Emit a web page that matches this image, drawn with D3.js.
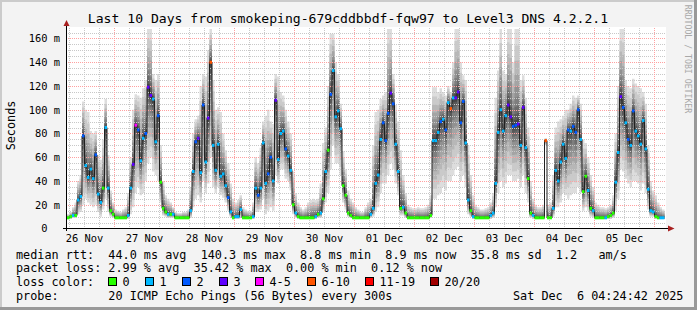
<!DOCTYPE html>
<html>
<head>
<meta charset="utf-8">
<script src="https://cdnjs.cloudflare.com/ajax/libs/d3/7.8.5/d3.min.js"></script>
<style>
  body { margin: 0; background: #f3f3f3; }
  svg { display: block; font-family: "DejaVu Sans Mono", monospace; }
  text { white-space: pre; }
</style>
</head>
<body>
<svg></svg>
<script>
var width = 697;
var height = 310;

var plot_left = 66, plot_right = 666, plot_top = 28, plot_bottom = 228;

// hourly consolidated samples, first one at 26 Nov 05:00
var first_hour = Date.UTC(2025, 10, 26, 5);

var median_ms = [
   9, 10, 11, 11, 24, 27, 78, 53, 43, 50,
  42, 62, 29, 22, 34, 85, 34, 15, 12,  9,
   9,  9,  9,  9, 11, 34, 54, 87, 83, 57,
  76, 80,119,112,109, 73, 95, 39, 17, 14,
  12, 12, 12,  9,  9,  9,  9,  9,  9, 15,
  48, 73, 76, 47,104, 56, 93,140, 70, 49,
  71, 44, 46, 36, 26, 14,  9, 10, 10, 16,
   9,  9,  9,  9, 10, 34, 28, 34, 72, 38,
  46, 60, 40,108, 58, 80, 82, 67, 61, 49,
  20, 13, 10,  9,  9,  9,  9,  9,  9, 10,
  12, 13, 25, 48, 66,113,133, 94, 99, 84,
  36, 28, 13, 11,  9,  9,  9,  9,  9,  9,
   9, 12, 17, 38, 45, 75, 89, 74, 97,114,
 105, 71, 48, 17, 18, 13,  9,  9,  9,  9,
   9,  9,  9,  9,  9, 11, 74, 74, 81, 90,
  92, 83,106,101,110,110,115, 89,107, 72,
  24, 15, 10,  9,  9,  9,  9,  9,  9, 11,
  13, 38, 81,100, 82, 95,104, 94, 86, 87,
  88, 70,102, 68, 42, 13, 11,  9,  9,  9,
   9, 74,  9,  9, 17, 49, 40, 56, 71, 59,
  83, 82, 86, 81,100, 75, 31, 44, 32, 17,
  15,  9,  9,  9,  9,  9, 10, 11, 13, 39,
  64,111,102, 89, 75, 70, 99, 82, 78, 71,
  91, 67, 33, 15, 14, 10,  9,  9,  9
];

// outer edge of the smoke (fastest / slowest ping)
var smoke_lo_ms = [
   8,  8,  9,  9, 12, 14, 20, 25, 22, 20,
  18, 20, 14, 10, 16, 25, 14, 10,  9,  8,
   8,  8,  8,  8,  8, 12, 18, 30, 35, 28,
  30, 40, 55, 60, 48, 45, 40, 22, 11, 10,
   9,  9,  9,  8,  8,  8,  8,  8,  8,  9,
  18, 25, 28, 22, 40, 30, 38, 60, 35, 30,
  35, 28, 26, 22, 15, 10,  8,  8,  8,  9,
   8,  8,  8,  8,  8, 14, 14, 16, 25, 12,
  15, 18, 15, 45, 38, 50, 50, 42, 40, 32,
  12,  9,  8,  8,  8,  8,  8,  8,  8,  8,
   9,  9, 14, 22, 30, 50, 70, 55, 55, 45,
  22, 16, 10,  9,  8,  8,  8,  8,  8,  8,
   8,  9, 10, 14, 18, 30, 38, 38, 45, 55,
  50, 38, 28, 11, 11,  9,  8,  8,  8,  8,
   8,  8,  8,  8,  8,  9, 25, 25, 28, 30,
  35, 32, 40, 40, 45, 50, 52, 40, 45, 35,
  12, 10,  8,  8,  8,  8,  8,  8,  8,  8,
   9, 18, 30, 40, 35, 38, 45, 45, 40, 40,
  42, 35, 45, 30, 22,  9,  8,  8,  8,  8,
   8, 70,  8,  8, 10, 18, 18, 22, 30, 28,
  25, 28, 30, 30, 35, 30, 15, 18, 15, 10,
   9,  8,  8,  8,  8,  8,  8,  8,  9, 15,
  25, 50, 48, 42, 38, 35, 40, 40, 38, 32,
  38, 30, 16, 10, 10,  8,  8,  8,  8
];

var smoke_hi_ms = [
  12, 14, 18, 22, 40, 45,107,100, 98, 82,
  80, 82, 62, 58, 75,109, 62, 32, 22, 16,
  15, 14, 16, 18, 30, 60,100,113,112,110,
 118,125,168,168,130,125,130, 70, 40, 28,
  25, 22, 18, 14, 13, 13, 14, 14, 16, 35,
  80, 92, 95,120,130,128,150,168,125,100,
 102, 98, 80, 66, 55, 38, 25, 22, 24, 28,
  18, 16, 15, 15, 22, 60, 55, 68, 90, 95,
 100, 90, 88,130,128,115,112,100, 90, 80,
  48, 30, 22, 18, 16, 18, 22, 24, 25, 24,
  25, 38, 72, 85,120,164,164,140,130,105,
  65, 50, 32, 25, 22, 18, 16, 14, 14, 18,
  22, 25, 70, 98,100,109,112,115,168,168,
 130,104, 90, 66, 45, 30, 20, 18, 17, 17,
  18, 17, 17, 18, 20, 28,119,119,115,118,
 115,112,120,115,140,168,168,140,129,125,
  70, 45, 28, 20, 18, 16, 16, 17, 18, 22,
  30,110,133,168,133,130,168,168,140,168,
 168,125,129,110, 85, 40, 25, 20, 18, 18,
  20, 76, 20, 22, 45, 85, 90, 92, 95,100,
 100,105,112,110,112,105, 75, 72, 60, 45,
  35, 22, 20, 18, 18, 17, 18, 20, 28, 80,
 120,168,168,125,120,118,126,122,120,118,
 115,105, 70, 40, 32, 28, 22, 18, 16
];

// lost pings out of 20
var loss_pings = [
  0, 0, 1, 0, 1, 1, 2, 1, 1, 1,
  1, 2, 1, 1, 0, 1, 1, 0, 0, 0,
  0, 0, 0, 0, 1, 1, 3, 4, 2, 1,
  1, 2, 3, 3, 1, 1, 2, 0, 0, 0,
  1, 0, 1, 0, 0, 0, 0, 0, 0, 1,
  1, 2, 3, 1, 2, 1, 3, 8, 1, 1,
  1, 1, 1, 1, 2, 1, 0, 1, 1, 1,
  0, 0, 0, 0, 1, 1, 2, 1, 1, 1,
  2, 2, 1, 3, 1, 1, 1, 2, 1, 1,
  0, 1, 0, 0, 0, 0, 0, 0, 0, 1,
  0, 1, 0, 1, 0, 2, 1, 1, 1, 1,
  0, 0, 0, 0, 0, 0, 0, 0, 0, 0,
  0, 1, 1, 1, 1, 1, 2, 2, 2, 3,
  2, 1, 1, 0, 1, 0, 0, 0, 0, 0,
  0, 0, 0, 0, 0, 0, 1, 1, 1, 2,
  1, 2, 1, 8, 1, 3, 3, 2, 2, 1,
  1, 0, 1, 0, 0, 0, 0, 0, 0, 1,
  1, 1, 1, 1, 1, 1, 3, 3, 2, 2,
  3, 1, 3, 1, 0, 0, 1, 0, 0, 0,
  0, 8, 0, 0, 1, 1, 1, 1, 1, 1,
  2, 1, 2, 2, 2, 1, 0, 0, 1, 0,
  1, 0, 0, 0, 0, 1, 0, 0, 0, 1,
  1, 3, 2, 1, 2, 1, 2, 1, 1, 1,
  1, 1, 1, 1, 1, 0, 0, 1, 1
];

var y_ticks = [0, 20, 40, 60, 80, 100, 120, 140, 160];
var y_labels = ["0  ", "20 m", "40 m", "60 m", "80 m", "100 m", "120 m", "140 m", "160 m"];
var day_labels = ["26 Nov", "27 Nov", "28 Nov", "29 Nov", "30 Nov", "01 Dec", "02 Dec", "03 Dec", "04 Dec", "05 Dec"];

var loss_names = ["0", "1", "2", "3", "4-5", "6-10", "11-19", "20/20"];
var loss_max = [0, 1, 2, 3, 5, 10, 19, 20];
var loss_colors = ["#26ff00", "#00b8ff", "#0059ff", "#5e00ff", "#ff00ff", "#ff5500", "#ff0000", "#a10000"];
var loss_box_x = [108.5, 145.5, 182.5, 219.5, 255.5, 307.5, 365.5, 430.5];

var smoke_grays = [221, 202, 183, 164, 145, 126, 107, 88, 69, 50];

var legend_rows = [
    "median rtt:  44.0 ms avg  140.3 ms max  8.8 ms min  8.9 ms now  35.8 ms sd  1.2   am/s",
    "packet loss: 2.99 % avg  35.42 % max  0.00 % min  0.12 % now",
    "loss color:",
    "probe:       20 ICMP Echo Pings (56 Bytes) every 300s"
];
var stamp = "Sat Dec  6 04:24:42 2025";
var title = "Last 10 Days from smokeping-679cddbbdf-fqw97 to Level3 DNS 4.2.2.1";

var svg = d3.select("svg")
    .attr("width", width)
    .attr("height", height);

// background + 3d shade
svg.append("rect").attr("width", width).attr("height", height).attr("fill", "#f3f3f3");
svg.append("rect").attr("x", 0).attr("y", 0).attr("width", width).attr("height", 2).attr("fill", "#cbcbcb");
svg.append("rect").attr("x", 0).attr("y", 0).attr("width", 2).attr("height", height).attr("fill", "#cbcbcb");
svg.append("rect").attr("x", 0).attr("y", height - 3).attr("width", width).attr("height", 3).attr("fill", "#999999");
svg.append("rect").attr("x", width - 3).attr("y", 0).attr("width", 3).attr("height", height).attr("fill", "#999999");

svg.append("rect")
    .attr("x", plot_left).attr("y", plot_top - 1)
    .attr("width", plot_right - plot_left).attr("height", plot_bottom - plot_top + 1)
    .attr("fill", "#ffffff");

svg.append("clipPath").attr("id", "plotclip")
  .append("rect")
    .attr("x", plot_left + 1).attr("y", plot_top - 1)
    .attr("width", plot_right - plot_left).attr("height", plot_bottom - plot_top + 1);

var x = d3.scaleUtc()
    .domain([Date.UTC(2025, 10, 26), Date.UTC(2025, 11, 6)])
    .range([54.5, 654.5]);

var y = d3.scaleLinear()
    .domain([0, 168.42])
    .range([228.5, 28.5]);

function loss_band(l) {
    for (var i = 0; i < loss_max.length; i++) {
        if (l <= loss_max[i]) return i;
    }
    return loss_max.length - 1;
}

var samples = median_ms.map(function(m, i) {
    return { t: new Date(first_hour + i * 3600e3), med: m, lo: smoke_lo_ms[i], hi: smoke_hi_ms[i], loss: loss_pings[i] };
});
// one extra point so the last step gets its width
var last = samples[samples.length - 1];
var step_pts = samples.concat([{ t: new Date(first_hour + samples.length * 3600e3), med: last.med, lo: last.lo, hi: last.hi, loss: last.loss }]);

var plot = svg.append("g").attr("clip-path", "url(#plotclip)");

// smoke: outer band lightest, inner bands darker and narrower
smoke_grays.forEach(function(g, k) {
    var f = Math.pow(1 - k / smoke_grays.length, 1.8);
    var area = d3.area()
        .curve(d3.curveStepAfter)
        .x(function(d) { return x(d.t); })
        .y0(function(d) { return y(d.med - (d.med - d.lo) * f); })
        .y1(function(d) { return y(Math.min(168.42, d.med + (d.hi - d.med) * f)); });
    plot.append("path")
        .datum(step_pts)
        .attr("d", area)
        .attr("fill", d3.rgb(g, g, g));
});

// grid
var grid = plot.append("g").attr("class", "grid");
var minor_y = d3.range(5, 170, 5).filter(function(v) { return v % 20 != 0; });
grid.selectAll(".hminor").data(minor_y).enter().append("line")
    .attr("x1", plot_left).attr("x2", plot_right)
    .attr("y1", function(d) { return Math.round(y(d)) + 0.5; })
    .attr("y2", function(d) { return Math.round(y(d)) + 0.5; })
    .attr("stroke", "#c8c8c8").attr("stroke-dasharray", "1,1");

var minor_x = d3.utcHour.every(6).range(new Date(Date.UTC(2025, 10, 26, 6)), new Date(Date.UTC(2025, 11, 6, 6)))
    .filter(function(d) { return d.getUTCHours() != 0; });
grid.selectAll(".vminor").data(minor_x).enter().append("line")
    .attr("x1", function(d) { return x(d); }).attr("x2", function(d) { return x(d); })
    .attr("y1", plot_top).attr("y2", plot_bottom)
    .attr("stroke", "#c8c8c8").attr("stroke-dasharray", "1,1");

grid.selectAll(".hmajor").data(y_ticks.slice(1)).enter().append("line")
    .attr("x1", plot_left).attr("x2", plot_right)
    .attr("y1", function(d) { return Math.round(y(d)) + 0.5; })
    .attr("y2", function(d) { return Math.round(y(d)) + 0.5; })
    .attr("stroke", "#ffa0a0").attr("stroke-dasharray", "1,1");

var days = d3.utcDay.range(new Date(Date.UTC(2025, 10, 27)), new Date(Date.UTC(2025, 11, 6, 1)));
grid.selectAll(".vmajor").data(days).enter().append("line")
    .attr("x1", function(d) { return x(d); }).attr("x2", function(d) { return x(d); })
    .attr("y1", plot_top).attr("y2", plot_bottom)
    .attr("stroke", "#ffa0a0").attr("stroke-dasharray", "1,1");

// median line
var med_line = d3.line()
    .curve(d3.curveStepAfter)
    .x(function(d) { return x(d.t); })
    .y(function(d) { return y(d.med); });

plot.append("path")
    .datum(step_pts)
    .attr("d", med_line)
    .attr("fill", "none")
    .attr("stroke", "#202020")
    .attr("stroke-width", 1);

// loss colour marks on the median
plot.selectAll(".lossmark")
    .data(samples)
  .enter().append("rect")
    .attr("class", "lossmark")
    .attr("x", function(d) { return x(d.t); })
    .attr("width", 2.5)
    .attr("y", function(d) { return y(d.med) - 1.5; })
    .attr("height", 3)
    .attr("fill", function(d) { return loss_colors[loss_band(d.loss)]; });

// axes
svg.append("line")
    .attr("x1", plot_left + 0.5).attr("x2", plot_left + 0.5)
    .attr("y1", plot_bottom + 3).attr("y2", 22)
    .attr("stroke", "#000");
svg.append("line")
    .attr("x1", plot_left - 3).attr("x2", 669)
    .attr("y1", plot_bottom + 0.5).attr("y2", plot_bottom + 0.5)
    .attr("stroke", "#000");
svg.append("path")
    .attr("d", "M63.5,26 L69.5,26 L66.5,20 Z")
    .attr("fill", "#a82020");
svg.append("path")
    .attr("d", "M668,225.5 L668,231.5 L674.5,228.5 Z")
    .attr("fill", "#a82020");

// y tick labels
svg.selectAll(".ylab")
    .data(y_ticks)
  .enter().append("text")
    .attr("x", 60)
    .attr("y", function(d) { return y(d) + 3.8; })
    .attr("text-anchor", "end")
    .attr("font-size", "10.4px")
    .attr("fill", "#000")
    .text(function(d, i) { return y_labels[i]; });

// x tick labels, centred on noon
svg.selectAll(".xlab")
    .data(day_labels)
  .enter().append("text")
    .attr("x", function(d, i) { return x(new Date(Date.UTC(2025, 10, 26 + i, 12))); })
    .attr("y", 241.5)
    .attr("text-anchor", "middle")
    .attr("font-size", "10.4px")
    .attr("fill", "#000")
    .text(function(d) { return d; });

// title
svg.append("text")
    .attr("x", 348)
    .attr("y", 23)
    .attr("text-anchor", "middle")
    .attr("font-size", "13.1px")
    .attr("fill", "#000")
    .text(title);

svg.append("text")
    .attr("transform", "translate(15,125.5) rotate(-90)")
    .attr("text-anchor", "middle")
    .attr("font-size", "11.8px")
    .attr("fill", "#000")
    .text("Seconds");

svg.append("text")
    .attr("transform", "translate(685,59) rotate(90)")
    .attr("text-anchor", "middle")
    .attr("font-size", "8.2px")
    .attr("fill", "#a8a8a8")
    .text("RRDTOOL / TOBI OETIKER");

// legend
var row_y = [258.5, 272.4, 286.3, 300.2];
svg.selectAll(".legrow")
    .data(legend_rows)
  .enter().append("text")
    .attr("x", 16)
    .attr("y", function(d, i) { return row_y[i]; })
    .attr("font-size", "11.8px")
    .attr("fill", "#000")
    .text(function(d) { return d; });

svg.append("text")
    .attr("x", 513)
    .attr("y", row_y[3])
    .attr("font-size", "11.8px")
    .attr("fill", "#000")
    .text(stamp);

var boxes = svg.selectAll(".lossbox")
    .data(loss_names)
  .enter().append("g");

boxes.append("rect")
    .attr("x", function(d, i) { return loss_box_x[i]; })
    .attr("y", 277.5)
    .attr("width", 8)
    .attr("height", 8)
    .attr("fill", function(d, i) { return loss_colors[i]; })
    .attr("stroke", "#000");

boxes.append("text")
    .attr("x", function(d, i) { return loss_box_x[i] + 14; })
    .attr("y", row_y[2])
    .attr("font-size", "11.8px")
    .attr("fill", "#000")
    .text(function(d) { return d; });
</script>
</body>
</html>
